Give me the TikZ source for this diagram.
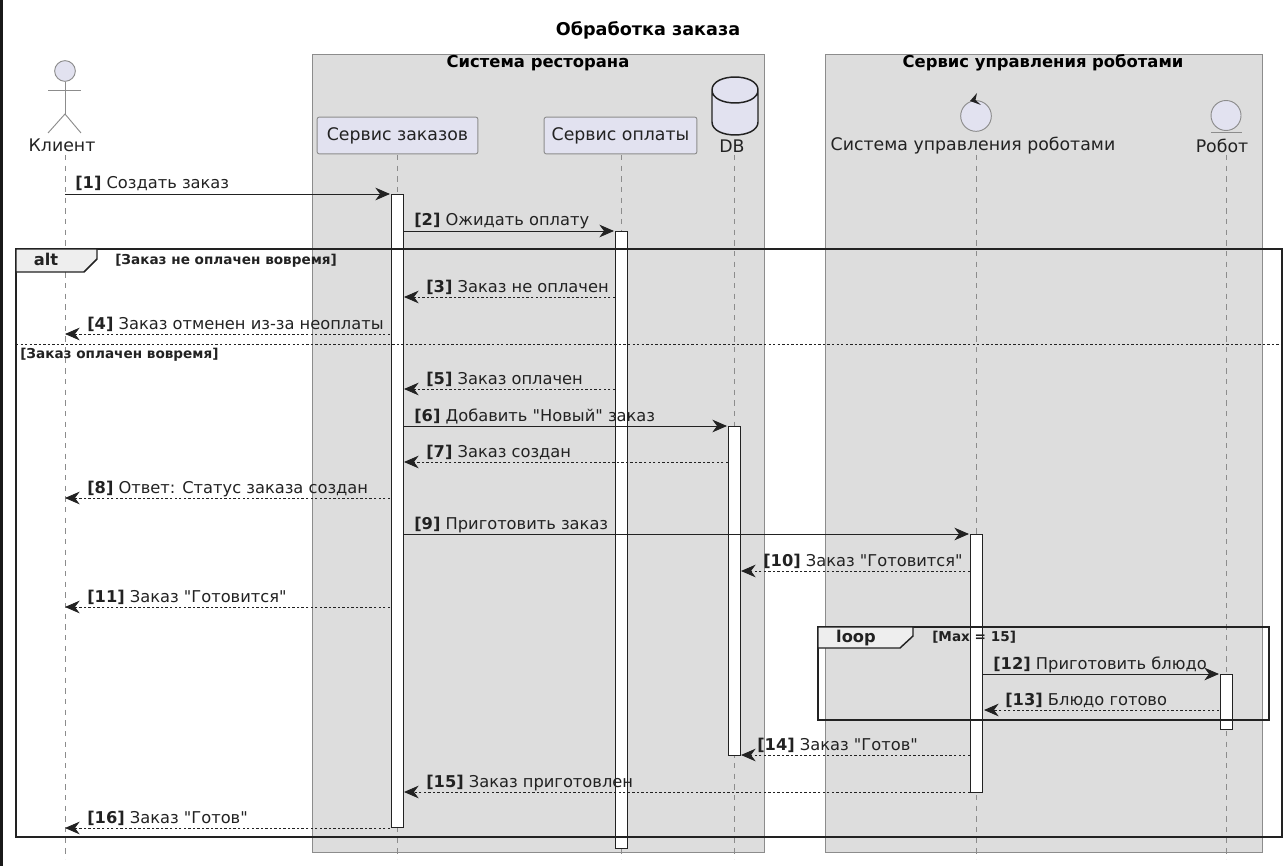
\documentclass[tikz,border=0pt]{standalone}
\usepackage{fontspec}
\setmainfont{DejaVu Sans}[Ligatures=TeXOff]
\usetikzlibrary{arrows.meta, shapes.geometric}
\definecolor{headfill}{RGB}{226,226,240}
\definecolor{boxfill}{RGB}{221,221,221}
\definecolor{linegray}{RGB}{140,140,140}
\definecolor{inkdark}{RGB}{34,34,34}
\definecolor{tabfill}{RGB}{238,238,238}
\tikzstyle{groupbox} = [draw=linegray, fill=boxfill, line width=0.6pt]
\tikzstyle{partbox} = [rectangle, rounded corners=1.5pt, draw=linegray, fill=headfill, line width=0.7pt, minimum height=27.5pt, inner sep=0pt, text=inkdark, font=\fontsize{13}{15}\selectfont]
\tikzstyle{headtext} = [inner sep=0pt, text=inkdark, font=\fontsize{13}{15}\selectfont]
\tikzstyle{figline} = [draw=linegray, line width=0.7pt]
\tikzstyle{lifeline} = [draw=linegray, line width=0.6pt, dash pattern=on 4pt off 4pt]
\tikzstyle{actbar} = [rectangle, draw=inkdark, fill=white, line width=0.7pt, minimum width=9pt, inner sep=0pt, anchor=north]
\tikzstyle{frameline} = [draw=inkdark, line width=1.5pt]
\tikzstyle{tabshape} = [draw=inkdark, fill=tabfill, line width=1.1pt]
\tikzstyle{msg} = [draw=inkdark, line width=0.7pt, -{Stealth[length=11pt,width=9.5pt,inset=3.5pt]}]
\tikzstyle{msgback} = [msg, dash pattern=on 1.8pt off 1.6pt]
\tikzstyle{msglabel} = [anchor=base west, inner sep=0pt, text=inkdark, font=\fontsize{12.2}{14}\selectfont]
\tikzstyle{guard} = [anchor=base west, inner sep=0pt, text=inkdark, font=\fontsize{10.2}{12}\selectfont\bfseries]
\tikzstyle{titletext} = [inner sep=0pt, text=black, font=\fontsize{12.3}{14}\selectfont\bfseries]

\begin{document}
\begin{tikzpicture}[x=0.75pt, y=-0.75pt]
\useasboundingbox (0,0) rectangle (1287,866);

% Edge of the window
\fill[black!90] (0,0) rectangle (3,866);

% Title
\node[titletext, font=\fontsize{13.2}{15}\selectfont\bfseries] (title) at (648,30) {Обработка заказа};

% Group boxes
\draw[groupbox] (312,54) rectangle (764,852);
\draw[groupbox] (825,54) rectangle (1262,852);
\node[titletext] (group_rest) at (538,63) {Система ресторана};
\node[titletext] (group_robot) at (1043,63) {Сервис управления роботами};

% Lifelines
\coordinate (client_top) at (65,155);
\coordinate (client_end) at (65,859);
\coordinate (orders_top) at (397,155);
\coordinate (orders_end) at (397,859);
\coordinate (pay_top) at (621,155);
\coordinate (pay_end) at (621,859);
\coordinate (db_top) at (734.5,155);
\coordinate (db_end) at (734.5,859);
\coordinate (ctrl_top) at (976,155);
\coordinate (ctrl_end) at (976,859);
\coordinate (robot_top) at (1226,155);
\coordinate (robot_end) at (1226,859);
\draw[lifeline] (client_top) -- (client_end);
\draw[lifeline] (orders_top) -- (orders_end);
\draw[lifeline] (pay_top) -- (pay_end);
\draw[lifeline] (db_top) -- (db_end);
\draw[lifeline] (ctrl_top) -- (ctrl_end);
\draw[lifeline] (robot_top) -- (robot_end);

% Client
\node[circle, draw=linegray, fill=headfill, line width=0.7pt, minimum size=15.5pt, inner sep=0pt] (client_head) at (65,71) {};
\draw[figline] (client_head.south) -- (65,114);
\draw[figline] (48,90) -- (81,90);
\draw[figline] (48,133) -- (65,114) -- (81,133);
\node[headtext] (client_name) at (62,145) {Клиент};

% Restaurant participants
\node[partbox, minimum width=120.5pt] (orders_head) at (397.5,135.5) {Сервис заказов};
\node[partbox, minimum width=114.5pt] (pay_head) at (620.5,135.5) {Сервис оплаты};

% Database
\draw[draw=inkdark, fill=headfill, line width=1.1pt] (712,90) -- (712,122) .. controls (712,139.3) and (758,139.3) .. (758,122) -- (758,90) .. controls (758,72.7) and (712,72.7) .. (712,90) .. controls (712,107.3) and (758,107.3) .. (758,90);
\node[headtext] (db_name) at (732,146) {DB};

% Robot control
\node[circle, draw=linegray, fill=headfill, line width=0.7pt, minimum size=23pt, inner sep=0pt] (ctrl_head) at (976,116) {};
\fill[inkdark] (970,101) -- (977,93) -- (975.5,100) -- (981,105) -- cycle;
\node[headtext] (ctrl_name) at (973,146) {Система управления роботами};

% Robot
\node[circle, draw=linegray, fill=headfill, line width=0.7pt, minimum size=22.5pt, inner sep=0pt] (robot_head) at (1226,115.5) {};
\draw[figline] (1211,132.5) -- (1242,132.5);
\node[headtext] (robot_name) at (1222,146) {Робот};

% Activation bars
\node[actbar, minimum height=475pt] (orders_bar) at (397,194) {};
\node[actbar, minimum height=463pt] (pay_bar) at (621,231) {};
\node[actbar, minimum height=247pt] (db_bar) at (734,426) {};
\node[actbar, minimum height=193.5pt] (ctrl_bar) at (976.5,534) {};
\node[actbar, minimum height=41pt] (robot_bar) at (1226,674) {};

% Alt frame
\draw[frameline] (16,249) rectangle (1282,837);
\draw[tabshape] (16,249) -- (97,249) -- (97,259) -- (84,272) -- (16,272) -- cycle;
\node[anchor=base, inner sep=0pt, text=inkdark, font=\fontsize{12.2}{14}\selectfont\bfseries] (alt_label) at (46,265) {alt};
\node[guard] (alt_first) at (115,264) {[Заказ не оплачен вовремя]};
\coordinate (split_left) at (16,344);
\coordinate (split_right) at (1282,344);
\draw[draw=inkdark, line width=0.7pt, dash pattern=on 1.8pt off 1.6pt] (split_left) -- (split_right);
\node[guard] (alt_second) at (20,358) {[Заказ оплачен вовремя]};

% Loop frame
\draw[frameline] (818,627) rectangle (1269,720);
\draw[tabshape] (818,627) -- (913,627) -- (913,636) -- (900,648) -- (818,648) -- cycle;
\node[anchor=base, inner sep=0pt, text=inkdark, font=\fontsize{12.2}{14}\selectfont\bfseries] (loop_label) at (856,642) {loop};
\node[guard] (loop_guard) at (932,641) {[Max = 15]};

% Messages
\coordinate (m1a) at (65,194);
\coordinate (m1b) at (390,194);
\draw[msg] (m1a) -- (m1b);
\node[msglabel] (m1) at (75,189) {\textbf{[1]} Создать заказ};

\coordinate (m2a) at (403,231);
\coordinate (m2b) at (614,231);
\draw[msg] (m2a) -- (m2b);
\node[msglabel] (m2) at (414,226) {\textbf{[2]} Ожидать оплату};

\coordinate (m3a) at (615,297);
\coordinate (m3b) at (404,297);
\draw[msgback] (m3a) -- (m3b);
\node[msglabel] (m3) at (426,292) {\textbf{[3]} Заказ не оплачен};

\coordinate (m4a) at (390,334);
\coordinate (m4b) at (65,334);
\draw[msgback] (m4a) -- (m4b);
\node[msglabel] (m4) at (87,329) {\textbf{[4]} Заказ отменен из-за неоплаты};

\coordinate (m5a) at (615,389);
\coordinate (m5b) at (404,389);
\draw[msgback] (m5a) -- (m5b);
\node[msglabel] (m5) at (426,384) {\textbf{[5]} Заказ оплачен};

\coordinate (m6a) at (403,426);
\coordinate (m6b) at (727,426);
\draw[msg] (m6a) -- (m6b);
\node[msglabel] (m6) at (414,421) {\textbf{[6]} Добавить "Новый" заказ};

\coordinate (m7a) at (728,462);
\coordinate (m7b) at (404,462);
\draw[msgback] (m7a) -- (m7b);
\node[msglabel] (m7) at (426,457) {\textbf{[7]} Заказ создан};

\coordinate (m8a) at (390,498);
\coordinate (m8b) at (65,498);
\draw[msgback] (m8a) -- (m8b);
\node[msglabel] (m8) at (87,493) {\textbf{[8]} Ответ: Статус заказа создан};

\coordinate (m9a) at (403,534);
\coordinate (m9b) at (969,534);
\draw[msg] (m9a) -- (m9b);
\node[msglabel] (m9) at (414,529) {\textbf{[9]} Приготовить заказ};

\coordinate (m10a) at (970,571);
\coordinate (m10b) at (741,571);
\draw[msgback] (m10a) -- (m10b);
\node[msglabel] (m10) at (763,566) {\textbf{[10]} Заказ "Готовится"};

\coordinate (m11a) at (390,607);
\coordinate (m11b) at (65,607);
\draw[msgback] (m11a) -- (m11b);
\node[msglabel] (m11) at (87,602) {\textbf{[11]} Заказ "Готовится"};

\coordinate (m12a) at (983,674);
\coordinate (m12b) at (1219,674);
\draw[msg] (m12a) -- (m12b);
\node[msglabel] (m12) at (993,669) {\textbf{[12]} Приготовить блюдо};

\coordinate (m13a) at (1219,710);
\coordinate (m13b) at (984,710);
\draw[msgback] (m13a) -- (m13b);
\node[msglabel] (m13) at (1005,705) {\textbf{[13]} Блюдо готово};

\coordinate (m14a) at (970,755);
\coordinate (m14b) at (741,755);
\draw[msgback] (m14a) -- (m14b);
\node[msglabel] (m14) at (757,750) {\textbf{[14]} Заказ "Готов"};

\coordinate (m15a) at (970,792);
\coordinate (m15b) at (404,792);
\draw[msgback] (m15a) -- (m15b);
\node[msglabel] (m15) at (426,787) {\textbf{[15]} Заказ приготовлен};

\coordinate (m16a) at (390,828);
\coordinate (m16b) at (65,828);
\draw[msgback] (m16a) -- (m16b);
\node[msglabel] (m16) at (87,823) {\textbf{[16]} Заказ "Готов"};

\end{tikzpicture}
\end{document}
